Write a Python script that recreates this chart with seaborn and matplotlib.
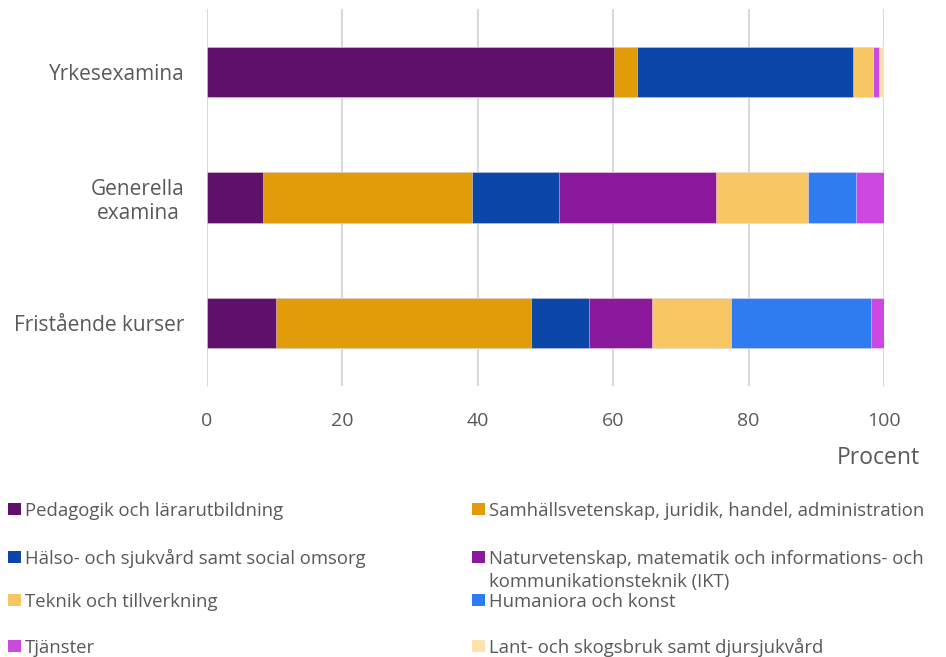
import matplotlib
matplotlib.use("Agg")
import matplotlib.pyplot as plt
from matplotlib.patches import Rectangle
import seaborn as sns
import pandas as pd
import numpy as np

categories = ["Yrkesexamina", "Generella\nexamina", "Fristående kurser"]
series = [
    "Pedagogik och lärarutbildning",
    "Samhällsvetenskap, juridik, handel, administration",
    "Hälso- och sjukvård samt social omsorg",
    "Naturvetenskap, matematik och informations- och\nkommunikationsteknik (IKT)",
    "Teknik och tillverkning",
    "Humaniora och konst",
    "Tjänster",
    "Lant- och skogsbruk samt djursjukvård",
]
pedagogik = [60.1, 8.3, 10.2]
samhall = [3.4, 30.8, 37.7]
halso = [31.9, 12.9, 8.5]
naturvet = [0.0, 23.2, 9.3]
teknik = [3.0, 13.6, 11.7]
humaniora = [0.0, 7.0, 20.7]
tjanster = [0.8, 4.2, 1.9]
lant = [0.8, 0.0, 0.0]
values = [pedagogik, samhall, halso, naturvet, teknik, humaniora, tjanster, lant]
colors = ["#5F106B", "#E29B09", "#0A47A9", "#8A1A9B",
          "#F8C764", "#2F7BF0", "#CC48E0", "#FDE2AE"]
xticks = [0, 20, 40, 60, 80, 100]

sns.set_theme(style="white")
plt.rcParams["font.family"] = ["Open Sans", "DejaVu Sans"]

TXT = "#595959"
fig = plt.figure(figsize=(9.46, 6.57), dpi=100)
ax = fig.add_axes([0.2188, 0.4129, 0.7157, 0.573])

cum = np.cumsum(np.array(values), axis=0)
for i in range(len(series) - 1, -1, -1):
    df = pd.DataFrame({"cat": categories, "val": cum[i]})
    sns.barplot(data=df, x="val", y="cat", order=categories, orient="h",
                color=colors[i], saturation=1, width=0.4, linewidth=0.6,
                edgecolor="#ffffff80", ax=ax)

ax.set_xlim(0, 100)
ax.set_ylim(2.5, -0.5)
ax.set_xticks(xticks)
ax.set_xticklabels([str(t) for t in xticks])
ax.set_xlabel("")
ax.set_ylabel("")
ax.grid(axis="x", color="#D9D9D9", linewidth=1.5)
ax.set_axisbelow(True)
for s in ax.spines.values():
    s.set_visible(False)
ax.tick_params(axis="x", length=0, pad=19, labelsize=14, labelcolor=TXT)
ax.tick_params(axis="y", length=0, pad=16, labelsize=15, labelcolor=TXT)
for lbl in ax.get_yticklabels():
    lbl.set_multialignment("center")

fig.text(920 / 946, 1 - 458 / 657, "Procent", ha="right", va="center",
         fontsize=16.5, color=TXT)

# legend (row-wise order, two columns)
rows_base = [516, 564, 607, 653]
col_x = [8, 472]
line_gap = 23
W, H = 946, 657
for k, name in enumerate(series):
    r, c = divmod(k, 2)
    x0 = col_x[c]
    yb = rows_base[r]
    fig.patches.append(Rectangle((x0 / W, 1 - (yb - 1) / H), 13 / W, 12 / H,
                                 transform=fig.transFigure, facecolor=colors[k],
                                 edgecolor="none"))
    for j, line in enumerate(name.split("\n")):
        fig.text((x0 + 17) / W, 1 - (yb + j * line_gap) / H, line,
                 ha="left", va="baseline", fontsize=13.3, color=TXT)

fig.savefig("out.png", dpi=100)
